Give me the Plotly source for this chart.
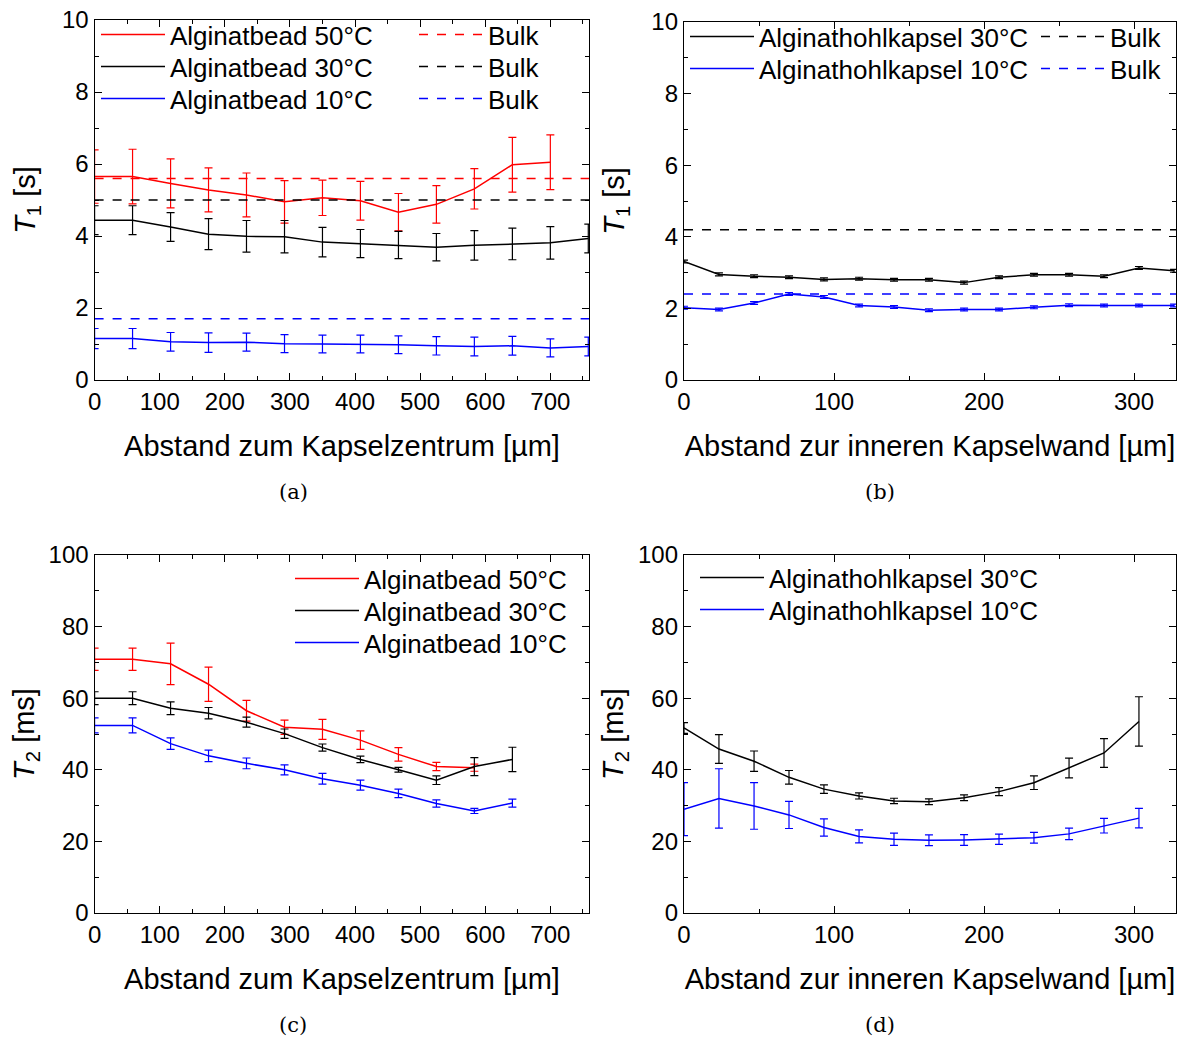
import plotly.graph_objects as go

# ---- distances (µm) ----
x_bead = [0, 58.3, 116.7, 175.0, 233.3, 291.7, 350.0, 408.3, 466.7, 525.0, 583.3, 641.7, 700.0, 758.3]
x_caps = [0, 23.3, 46.7, 70.0, 93.3, 116.7, 140.0, 163.3, 186.7, 210.0, 233.3, 256.7, 280.0, 303.3, 326.7]

# ---- T1 of alginate beads (s) ----
t1_bead50 = [5.65, 5.65, 5.46, 5.28, 5.14, 4.95, 5.06, 4.98, 4.66, 4.88, 5.31, 5.98, 6.05]
t1_bead50_err = [0.74, 0.76, 0.68, 0.61, 0.61, 0.59, 0.49, 0.54, 0.52, 0.52, 0.56, 0.76, 0.76]
t1_bead30 = [4.44, 4.44, 4.25, 4.05, 3.99, 3.98, 3.83, 3.79, 3.75, 3.69, 3.74, 3.78, 3.81, 3.93]
t1_bead30_err = [0.40, 0.40, 0.40, 0.43, 0.44, 0.45, 0.41, 0.39, 0.38, 0.38, 0.41, 0.44, 0.45, 0.40]
t1_bead10 = [1.15, 1.15, 1.06, 1.04, 1.05, 1.01, 1.00, 1.00, 0.98, 0.95, 0.93, 0.95, 0.89, 0.93]
t1_bead10_err = [0.28, 0.28, 0.26, 0.27, 0.25, 0.25, 0.245, 0.245, 0.245, 0.255, 0.26, 0.26, 0.25, 0.26]
bulk_t1_50 = 5.6
bulk_t1_30 = 5.0
bulk_t1_10 = 1.7

# ---- T1 of hollow alginate capsules (s) ----
t1_caps30 = [3.31, 2.95, 2.90, 2.87, 2.81, 2.83, 2.80, 2.80, 2.72, 2.87, 2.94, 2.94, 2.90, 3.13, 3.05]
t1_caps30_err = [0.04] * 15
t1_caps10 = [2.02, 1.97, 2.15, 2.40, 2.32, 2.08, 2.04, 1.95, 1.97, 1.97, 2.03, 2.09, 2.08, 2.08, 2.08]
t1_caps10_err = [0.04] * 15
bulk_caps_30 = 4.2
bulk_caps_10 = 2.4

# ---- T2 of alginate beads (ms) ----
t2_bead50 = [70.9, 70.9, 69.6, 63.9, 56.5, 51.9, 51.3, 48.3, 44.3, 40.9, 40.6]
t2_bead50_err = [3.1, 3.1, 5.8, 4.8, 2.9, 2.0, 2.8, 2.6, 1.9, 1.15, 1.0]
t2_bead30 = [60.0, 60.0, 57.2, 55.8, 53.3, 50.1, 46.2, 42.9, 40.0, 37.1, 40.9, 42.9]
t2_bead30_err = [1.8, 1.8, 1.8, 1.6, 1.4, 1.3, 1.0, 0.9, 0.65, 1.2, 2.5, 3.4]
t2_bead10 = [52.4, 52.4, 47.3, 43.9, 41.8, 40.0, 37.5, 35.7, 33.4, 30.6, 28.5, 30.7]
t2_bead10_err = [2.1, 2.1, 1.6, 1.6, 1.5, 1.4, 1.5, 1.4, 1.2, 1.0, 0.7, 1.1]

# ---- T2 of hollow alginate capsules (ms) ----
t2_caps30 = [51.7, 45.8, 42.4, 37.9, 34.6, 32.7, 31.3, 31.1, 32.2, 33.9, 36.4, 40.5, 44.7, 53.5]
t2_caps30_err = [1.5, 4.0, 2.85, 1.9, 1.2, 0.85, 0.75, 0.8, 0.8, 1.1, 1.9, 2.75, 4.0, 6.9]
t2_caps10 = [29.0, 32.0, 29.9, 27.4, 23.9, 21.4, 20.6, 20.3, 20.4, 20.6, 21.0, 22.1, 24.4, 26.5]
t2_caps10_err = [7.4, 8.3, 6.5, 3.8, 2.4, 1.8, 1.7, 1.5, 1.5, 1.45, 1.5, 1.6, 2.05, 2.75]

XMAX_BEAD = 760
XMAX_CAPS = 328

RED = "#ff0000"
BLACK = "#000000"
BLUE = "#0000ff"
SANS = "Liberation Sans, Arial, sans-serif"

W, H = 1186, 1041


def px_x(p):
    return p / W


def px_y(p):
    return 1 - p / H


fig = go.Figure()

# each legend row is its own legend box so the row pitch can be set freely
# (legend id -> left px, row-centre px)
legend_rows = {}


def legend_row(key, x_px, yc_px):
    legend_rows[key] = (x_px, yc_px)
    return key


def curve(x, y, err, color, name, xa, ya, legend):
    fig.add_trace(go.Scatter(
        x=x[:len(y)], y=y, mode="lines", name=name,
        line=dict(color=color, width=1.5),
        error_y=dict(type="data", array=err, color=color, thickness=1.2, width=4),
        xaxis=xa, yaxis=ya, legend=legend,
    ))


def bulk(value, xmax, color, xa, ya, legend):
    fig.add_trace(go.Scatter(
        x=[0, xmax], y=[value, value], mode="lines", name="Bulk",
        line=dict(color=color, width=1.5, dash="dash"),
        xaxis=xa, yaxis=ya, legend=legend,
    ))


# (a) T1 beads
curve(x_bead, t1_bead50, t1_bead50_err, RED, "Alginatbead 50°C", "x", "y", legend_row("legend", 96, 36))
curve(x_bead, t1_bead30, t1_bead30_err, BLACK, "Alginatbead 30°C", "x", "y", legend_row("legend2", 96, 68))
curve(x_bead, t1_bead10, t1_bead10_err, BLUE, "Alginatbead 10°C", "x", "y", legend_row("legend3", 96, 100))
bulk(bulk_t1_50, XMAX_BEAD, RED, "x", "y", legend_row("legend4", 414, 36))
bulk(bulk_t1_30, XMAX_BEAD, BLACK, "x", "y", legend_row("legend5", 414, 68))
bulk(bulk_t1_10, XMAX_BEAD, BLUE, "x", "y", legend_row("legend6", 414, 100))

# (b) T1 capsules
curve(x_caps, t1_caps30, t1_caps30_err, BLACK, "Alginathohlkapsel 30°C", "x2", "y2", legend_row("legend7", 685, 38))
curve(x_caps, t1_caps10, t1_caps10_err, BLUE, "Alginathohlkapsel 10°C", "x2", "y2", legend_row("legend8", 685, 70))
bulk(bulk_caps_30, XMAX_CAPS, BLACK, "x2", "y2", legend_row("legend9", 1036, 38))
bulk(bulk_caps_10, XMAX_CAPS, BLUE, "x2", "y2", legend_row("legend10", 1036, 70))

# (c) T2 beads
curve(x_bead, t2_bead50, t2_bead50_err, RED, "Alginatbead 50°C", "x3", "y3", legend_row("legend11", 290, 580))
curve(x_bead, t2_bead30, t2_bead30_err, BLACK, "Alginatbead 30°C", "x3", "y3", legend_row("legend12", 290, 612))
curve(x_bead, t2_bead10, t2_bead10_err, BLUE, "Alginatbead 10°C", "x3", "y3", legend_row("legend13", 290, 644))

# (d) T2 capsules
curve(x_caps, t2_caps30, t2_caps30_err, BLACK, "Alginathohlkapsel 30°C", "x4", "y4", legend_row("legend14", 695, 579))
curve(x_caps, t2_caps10, t2_caps10_err, BLUE, "Alginathohlkapsel 10°C", "x4", "y4", legend_row("legend15", 695, 611))

# panel frames in pixels: (left, right, top, bottom)
frames = {
    1: (94.6, 589.4, 20, 380),
    2: (684, 1176, 22, 380),
    3: (94.6, 589.4, 555, 913),
    4: (684, 1176, 555, 913),
}

xtitles = {1: "Abstand zum Kapselzentrum [µm]", 2: "Abstand zur inneren Kapselwand [µm]",
           3: "Abstand zum Kapselzentrum [µm]", 4: "Abstand zur inneren Kapselwand [µm]"}
ytitles = {1: "<i>T</i><sub>1</sub> [s]", 2: "<i>T</i><sub>1</sub> [s]",
           3: "<i>T</i><sub>2</sub> [ms]", 4: "<i>T</i><sub>2</sub> [ms]"}
ystandoff = {1: 17, 2: 18, 3: 5, 4: 5}
xranges = {1: XMAX_BEAD, 2: XMAX_CAPS, 3: XMAX_BEAD, 4: XMAX_CAPS}
yranges = {1: (10, 2, 1), 2: (10, 2, 1), 3: (100, 20, 10), 4: (100, 20, 10)}

common = dict(
    showgrid=False, zeroline=False, showline=True, linecolor="black", linewidth=1.3,
    mirror="ticks", ticks="inside", ticklen=7, tickwidth=1.2, tickcolor="black",
    tickfont=dict(family=SANS, size=24, color="black"), automargin=False,
)

layout_axes = {}
for i, (l, r, t, b) in frames.items():
    sfx = "" if i == 1 else str(i)
    layout_axes["xaxis" + sfx] = dict(
        domain=[px_x(l), px_x(r)], anchor="y" + sfx, range=[0, xranges[i]],
        dtick=100, tick0=0,
        minor=dict(ticks="inside", dtick=50, ticklen=4, tickwidth=1.2, tickcolor="black"),
        title=dict(text=xtitles[i], font=dict(family=SANS, size=29, color="black"), standoff=21),
        **common,
    )
    ymax, dt, mdt = yranges[i]
    layout_axes["yaxis" + sfx] = dict(
        domain=[px_y(b), px_y(t)], anchor="x" + sfx, range=[0, ymax],
        dtick=dt, tick0=0,
        minor=dict(ticks="inside", dtick=mdt, ticklen=4, tickwidth=1.2, tickcolor="black"),
        title=dict(text=ytitles[i], font=dict(family=SANS, size=29, color="black"),
                   standoff=ystandoff[i]),
        **common,
    )

leg_font = dict(family=SANS, size=26, color="black")

legend_layout = {}
for key, (x_px, yc_px) in legend_rows.items():
    legend_layout[key] = dict(
        x=px_x(x_px), y=px_y(yc_px - 25), xanchor="left", yanchor="top",
        bgcolor="rgba(0,0,0,0)", font=leg_font, itemwidth=64,
        tracegroupgap=0, itemclick=False,
    )

fig.update_layout(
    width=W, height=H,
    margin=dict(l=0, r=0, t=0, b=0),
    paper_bgcolor="white", plot_bgcolor="white",
    font=dict(family=SANS, color="black"),
    showlegend=True,
    **legend_layout,
    **layout_axes,
)

for label, xp, yp in [("(a)", 293, 492), ("(b)", 880, 492), ("(c)", 293, 1025), ("(d)", 880, 1025)]:
    fig.add_annotation(text=label, x=px_x(xp), y=px_y(yp), xref="paper", yref="paper",
                       xanchor="center", yanchor="middle",
                       showarrow=False, font=dict(family="DejaVu Serif, serif", size=21, color="black"))

fig.write_html("out.html")
